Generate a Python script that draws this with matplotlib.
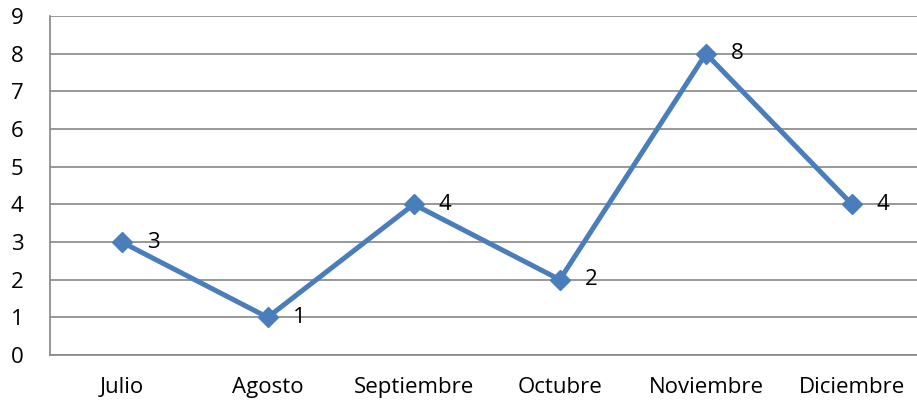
import matplotlib
matplotlib.use("Agg")
import matplotlib.pyplot as plt

months = ["Julio", "Agosto", "Septiembre", "Octubre", "Noviembre", "Diciembre"]
values = [3, 1, 4, 2, 8, 4]
yticks = list(range(0, 10))

plt.rcParams["font.family"] = ["Open Sans", "DejaVu Sans"]

fig = plt.figure(figsize=(9.17, 4.07), dpi=100)
ax = fig.add_axes([50 / 917, 52 / 407, 1 - 50 / 917, 339 / 407])

x = range(len(months))
ax.plot(x, values, color="#4A7EBB", linewidth=3.6, marker="D", markersize=10,
        markerfacecolor="#4A7EBB", markeredgecolor="#4A7EBB", zorder=3)
for xi, v in zip(x, values):
    ax.annotate(str(v), (xi, v), xytext=(18, 0), textcoords="offset points",
                ha="left", va="center", fontsize=16)

ax.set_xlim(-0.49, 5.445)
ax.set_ylim(0, 9)
ax.set_yticks(yticks)
ax.set_xticks(list(x))
ax.set_xticklabels(months)
ax.tick_params(axis="both", length=0, labelsize=16)
ax.tick_params(axis="y", pad=19)
ax.tick_params(axis="x", pad=16)
ax.grid(axis="y", color="#868686", linewidth=1.2)
ax.set_axisbelow(True)
for s in ["top", "right"]:
    ax.spines[s].set_visible(False)
for s in ["left", "bottom"]:
    ax.spines[s].set_color("#868686")
    ax.spines[s].set_linewidth(1.2)

fig.savefig("out.png", dpi=100)
